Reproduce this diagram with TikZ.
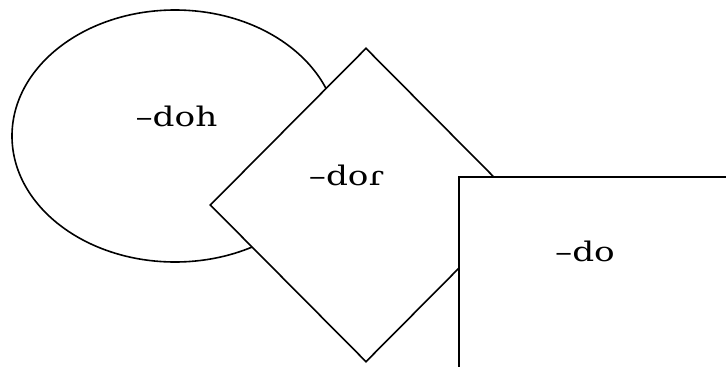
\documentclass[tikz,border=0pt]{standalone}
\usepackage{fontspec}
\setmainfont{DejaVu Serif}[FakeStretch=1.27]
\usetikzlibrary{shapes.geometric}
\tikzset{blob/.style={draw=black,fill=white,line width=1.6pt,inner sep=0pt},
  tag/.style={anchor=base,inner sep=0pt,font=\fontsize{27}{32}\selectfont}}

\begin{document}
\begin{tikzpicture}[x=1pt,y=-1pt]
  \useasboundingbox (0,0) rectangle (726,367);
  \clip (0,0) rectangle (726,367);
  % shapes, back to front
  \node[blob,ellipse,minimum width=326pt,minimum height=252pt] (oval) at (175,136) {};
  \node[blob,diamond,minimum width=312pt,minimum height=314pt] (kite) at (366,205) {};
  \node[blob,rectangle,anchor=north west,minimum width=330pt,minimum height=250pt] (box) at (458,176) {};
  % labels
  \node[tag] (doh) at (176.5,126) {–doh};
  \node[tag] (dor) at (346.5,185) {–doɾ};
  \node[tag] (do)  at (585,261)   {–do};
\end{tikzpicture}
\end{document}
